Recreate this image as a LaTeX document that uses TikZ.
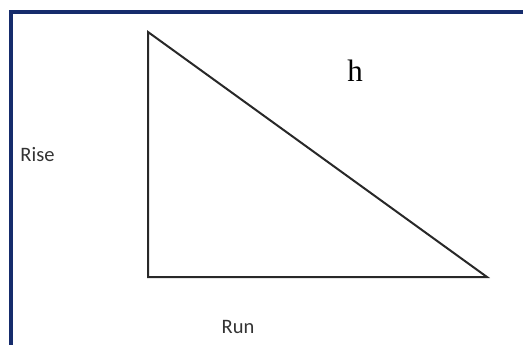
\documentclass[tikz,border=0pt]{standalone}
\usepackage{fontspec}
\setmainfont{Liberation Serif}
\newfontfamily\labelfont{Carlito}
\usepackage{xcolor}
\usepackage{tikz}
\usetikzlibrary{positioning}

\definecolor{frameblue}{RGB}{22,44,108}
\definecolor{edgegray}{RGB}{40,40,40}

\begin{document}
\begin{tikzpicture}[x=1pt, y=-1pt,
        side/.style={draw=edgegray, line width=2pt, line join=miter},
        sidelabel/.style={font=\labelfont\fontsize{20.5}{24}\selectfont, text=black!80, inner sep=0pt}]

        \useasboundingbox (0,0) rectangle (523,345);
        \draw[frameblue, line width=3.2pt] (11,346) -- (11,12) -- (524,12);

        \coordinate (top) at (148,32);
        \coordinate (corner) at (148,277);
        \coordinate (tip) at (487,277);

        \draw[side] (top) -- (corner) -- (tip) -- cycle;

        \node[sidelabel] (rise) at (37.5,155) {Rise};
        \node[sidelabel] (run) at (238,327) {Run};
        \node[font=\fontsize{31}{36}\selectfont, inner sep=0pt] (hyp) at (355,71) {h};

\end{tikzpicture}
\end{document}
